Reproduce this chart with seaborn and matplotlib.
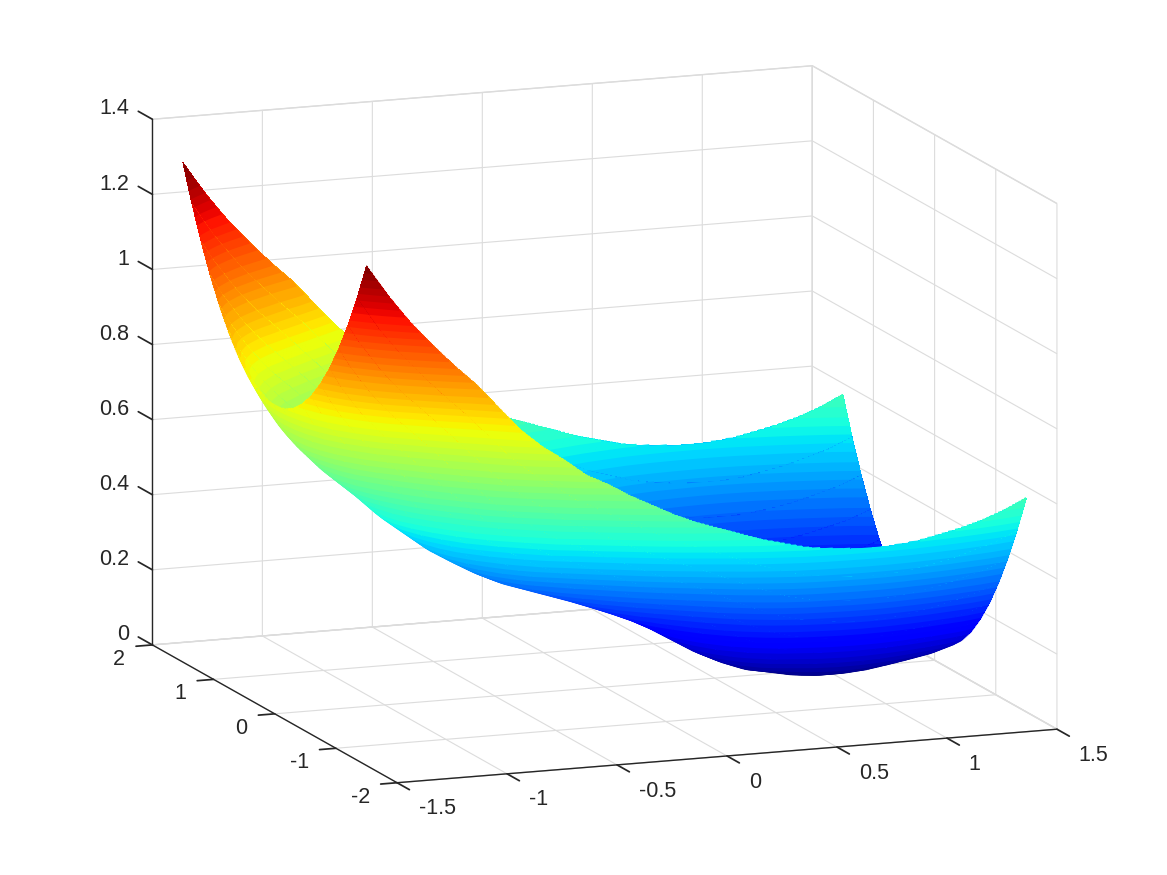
import warnings
import numpy as np
import matplotlib
matplotlib.use("Agg")
import matplotlib.pyplot as plt
from matplotlib.colors import Normalize
from matplotlib.transforms import ScaledTranslation
import seaborn as sns

x_values = [-1.5, -1.45, -1.4, -1.35, -1.3, -1.25, -1.2, -1.1, -1, -.9, -.8, -.7, -.6, -.5, -.4, -.3,
            -.2, -.1, 0, .1, .2, .3, .4, .5, .6, .7, .8, .9, 1, 1.1, 1.2, 1.3, 1.4, 1.5]
y_half = [0, .15, .3, .45, .6, .75, .9, 1.05, 1.2, 1.35, 1.5]
# surface height for y >= 0, one row per x value; the surface is mirrored in y
z_half = [
 [.82,.825,.84,.866,.902,.948,1.004,1.07,1.146,1.233,1.33],
 [.765,.77,.786,.812,.849,.896,.953,1.021,1.099,1.188,1.287],
 [.72,.725,.741,.768,.805,.853,.911,.98,1.059,1.145,1.245],
 [.685,.69,.706,.732,.769,.816,.873,.941,1.019,1.108,1.207],
 [.655,.66,.676,.701,.737,.784,.84,.907,.985,1.072,1.17],
 [.625,.63,.645,.671,.707,.753,.809,.876,.953,1.04,1.137],
 [.6,.605,.62,.646,.682,.728,.784,.85,.926,1.009,1.105],
 [.55,.555,.57,.595,.63,.675,.73,.795,.87,.951,1.045],
 [.495,.5,.515,.54,.574,.619,.673,.738,.812,.896,.99],
 [.45,.455,.469,.493,.526,.569,.621,.683,.754,.835,.925],
 [.405,.41,.423,.446,.478,.519,.569,.628,.696,.774,.86],
 [.37,.374,.388,.41,.44,.48,.528,.586,.652,.726,.81],
 [.337,.341,.354,.376,.406,.445,.493,.549,.614,.688,.77],
 [.31,.314,.327,.347,.376,.414,.459,.513,.576,.646,.725],
 [.29,.294,.306,.326,.355,.391,.436,.488,.549,.618,.695],
 [.27,.274,.286,.305,.332,.368,.41,.461,.52,.586,.66],
 [.25,.254,.265,.284,.311,.345,.387,.436,.493,.558,.63],
 [.228,.232,.243,.261,.288,.321,.362,.41,.466,.529,.6],
 [.205,.209,.22,.238,.264,.298,.338,.386,.442,.505,.575],
 [.18,.184,.195,.214,.24,.274,.315,.364,.42,.484,.555],
 [.15,.154,.165,.185,.212,.246,.289,.339,.396,.462,.535],
 [.115,.119,.131,.151,.179,.215,.259,.311,.371,.439,.515],
 [.08,.084,.097,.118,.147,.185,.231,.286,.349,.42,.5],
 [.052,.056,.069,.091,.121,.16,.208,.264,.329,.403,.485],
 [.03,.034,.048,.07,.102,.142,.191,.249,.316,.392,.477],
 [.018,.023,.036,.059,.091,.132,.181,.24,.309,.386,.472],
 [.006,.011,.025,.048,.08,.122,.173,.233,.303,.382,.47],
 [0,.005,.019,.042,.076,.118,.17,.231,.302,.382,.472],
 [0,.005,.019,.043,.076,.12,.172,.234,.306,.387,.478],
 [.004,.009,.023,.048,.082,.126,.179,.242,.315,.398,.49],
 [.012,.017,.032,.056,.091,.135,.189,.253,.326,.41,.503],
 [.022,.027,.042,.067,.102,.147,.202,.267,.342,.427,.52],
 [.033,.038,.053,.079,.114,.16,.216,.282,.359,.445,.542],
 [.05,.055,.071,.097,.133,.18,.237,.305,.383,.471,.57],
]
x_ticks = [-1.5, -1, -0.5, 0, 0.5, 1, 1.5]
y_ticks = [-2, -1, 0, 1, 2]
z_ticks = [0, .2, .4, .6, .8, 1, 1.2, 1.4]
x_ticklabels = ["-1.5", "-1", "-0.5", "0", "0.5", "1", "1.5"]
y_ticklabels = ["-2", "-1", "0", "1", "2"]
z_ticklabels = ["0", "0.2", "0.4", "0.6", "0.8", "1", "1.2", "1.4"]

sns.set_theme(style="white")
plt.rcParams["font.family"] = ["Liberation Sans", "DejaVu Sans"]
warnings.filterwarnings("ignore")

zh = np.array(z_half)
yh = np.array(y_half)
Y_axis = np.concatenate([-yh[:0:-1], yh])
Z = np.hstack([zh[:, :0:-1], zh])
X, Y = np.meshgrid(np.array(x_values), Y_axis, indexing="ij")

W = 1167
fig = plt.figure(figsize=(11.67, 8.75), dpi=100)
ax = fig.add_axes([5.4 / 1167, -148.5 / 875, W / 1167, W / 875], projection="3d",
                  proj_type="ortho", computed_zorder=False)
ax.set_box_aspect((705.8, 689.7, 538.1), zoom=0.935)
ax.view_init(elev=12.34, azim=-110.78)

jet = plt.get_cmap("jet", 64)
norm = Normalize(0, 1.33)
levels = np.arange(0, 1.334, 0.004)
# paint the y strips from the far side to the near side so the front sheet hides the back one
for k, j in enumerate(range(len(Y_axis) - 2, -1, -1)):
    s = slice(j, j + 2)
    ax.plot_surface(X[:, s], Y[:, s], Z[:, s], cmap=jet, norm=norm, rstride=1, cstride=1,
                    linewidth=0, antialiased=False, shade=False, zorder=10 + 2 * k)
    ax.contour(X[:, s], Y[:, s], Z[:, s], levels=levels, cmap=jet, norm=norm,
               linewidths=2.0, zorder=11 + 2 * k)

ax.set_xlim(-1.5, 1.5)
ax.set_ylim(-2, 2)
ax.set_zlim(0, 1.4)
ax.set_xticks(x_ticks, x_ticklabels)
ax.set_yticks(y_ticks, y_ticklabels)
ax.set_zticks(z_ticks, z_ticklabels)
ax.zaxis.set_ticks_position("upper")
ax.zaxis._get_tickdir = lambda position: 1  # z ticks run along y, as in the reference

for a, inward, outward in ((ax.xaxis, 0.63, 0.0), (ax.yaxis, 0.31, 0.0), (ax.zaxis, 0.0, 0.72)):
    a.set_pane_color((1, 1, 1, 1))
    a.pane.set_edgecolor("#dcdcdc")
    a.line.set_color("#262626")
    a.line.set_linewidth(1.0)
    a._axinfo["grid"].update(color="#dcdcdc", linewidth=0.8)
    a._axinfo["tick"].update(inward_factor=inward, outward_factor=outward, color="#262626")
ax.grid(True)
ax.tick_params(axis="both", labelsize=15.5, labelcolor="#262626", colors="#262626", width=0.8, pad=4)


def nudge(axis, dx, dy, ha):
    """Shift an axis' tick labels by pixels; Axis3D resets label transforms when it fetches ticks."""
    offset = ScaledTranslation(dx / 100, dy / 100, fig.dpi_scale_trans)
    original = axis.get_major_ticks

    def get_major_ticks(numticks=None):
        ticks = original(numticks)
        for tick in ticks:
            tick.label1.set_transform(ax.transData + offset)
            tick.label1.set_ha(ha)
            tick.label1.set_va("center")
        return ticks

    axis.get_major_ticks = get_major_ticks


nudge(ax.xaxis, 15, -8, "left")
nudge(ax.yaxis, -9, 1.5, "right")
nudge(ax.zaxis, 2, 8, "right")

fig.savefig("out.png", dpi=100)
